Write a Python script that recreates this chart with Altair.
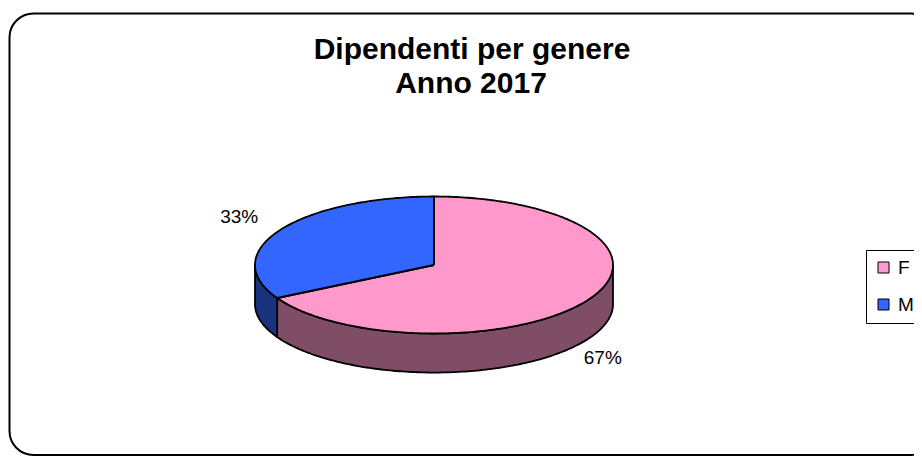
import altair as alt
import numpy as np
import pandas as pd

TITLE = ["Dipendenti per genere", "Anno 2017"]
genders = ["F", "M"]
values = [67, 33]
top_colors = ["#FF99CC", "#3366FF"]
side_colors = ["#804D66", "#1A3380"]

DEPTH = 0.57      # wall height, in units of the vertical radius
LABEL_KX = 1.18   # label distance factors
LABEL_KY = 1.45

total = sum(values)
rows_top, rows_side, rows_lab = [], [], []
start = 0.0


def pt(t):
    r = np.radians(t)
    return float(np.sin(r)), float(-np.cos(r))


for g, v in zip(genders, values):
    a0 = start / total * 360.0
    a1 = (start + v) / total * 360.0
    start += v
    angs = np.linspace(a0, a1, max(int(a1 - a0), 2) + 1)
    pts = [(0.0, 0.0)] + [pt(t) for t in angs] + [(0.0, 0.0)]
    for i, (x, y) in enumerate(pts):
        rows_top.append(dict(g=g, i=i, x=x, y=y))
    s0, s1 = max(a0, 90.0), min(a1, 270.0)
    if s1 > s0:
        angs = np.linspace(s0, s1, max(int(s1 - s0), 2) + 1)
        upper = [pt(t) for t in angs]
        lower = [(x, y + DEPTH) for x, y in upper[::-1]]
        pts = upper + lower + [upper[0]]
        for i, (x, y) in enumerate(pts):
            rows_side.append(dict(g=g, i=i, x=x, y=y))
    mid = (a0 + a1) / 2
    sx, sy = pt(mid)
    ly = LABEL_KY * sy + (DEPTH if sy > 0 else 0.0)
    rows_lab.append(dict(g=g, x=LABEL_KX * sx, y=ly, text=f"{round(v / total * 100)}%"))

top_df = pd.DataFrame(rows_top)
side_df = pd.DataFrame(rows_side)
lab_df = pd.DataFrame(rows_lab)

xs = alt.Scale(domain=[-1, 1], range=[247, 605], nice=False, zero=False)
ys = alt.Scale(domain=[-1, 1 + DEPTH], range=[188.5, 188.5 + (2 + DEPTH) * 68.5], nice=False, zero=False)

X = alt.X("x:Q", scale=xs, axis=None)
Y = alt.Y("y:Q", scale=ys, axis=None)

FONT = "Liberation Sans"

frame = alt.Chart(pd.DataFrame({"a": [0]})).mark_rect(
    fill="transparent", stroke="black", strokeWidth=2, cornerRadius=24
).encode(x=alt.value(1.5), x2=alt.value(927), y=alt.value(5.5), y2=alt.value(447))

side = alt.Chart(side_df).mark_line(
    stroke="black", strokeWidth=1.8, strokeJoin="round"
).encode(
    x=X, y=Y, order="i:Q", detail="g:N",
    fill=alt.Fill("g:N", scale=alt.Scale(domain=genders, range=side_colors), legend=None),
)

top = alt.Chart(top_df).mark_line(
    stroke="black", strokeWidth=1.8, strokeJoin="round"
).encode(
    x=X, y=Y, order="i:Q", detail="g:N",
    fill=alt.Fill(
        "g:N",
        scale=alt.Scale(domain=genders, range=top_colors),
        legend=alt.Legend(
            title=None, orient="none", legendX=858, legendY=242,
            symbolType="square", symbolSize=121, symbolStrokeColor="black",
            symbolStrokeWidth=1, symbolOffset=0, labelFont=FONT, labelFontSize=19,
            labelColor="black", labelOffset=5, rowPadding=17, padding=8,
            strokeColor="black",
        ),
    ),
)

labels = alt.Chart(lab_df).mark_text(
    font=FONT, fontSize=19, color="black", dx=-13, dy=3, baseline="middle", align="center"
).encode(x=X, y=Y, text="text:N")

t1 = alt.Chart(pd.DataFrame({"t": [TITLE[0]]})).mark_text(
    font=FONT, fontSize=30, fontWeight="bold", color="black", align="center", baseline="alphabetic"
).encode(x=alt.value(464), y=alt.value(51), text="t:N")
t2 = alt.Chart(pd.DataFrame({"t": [TITLE[1]]})).mark_text(
    font=FONT, fontSize=30, fontWeight="bold", color="black", align="center", baseline="alphabetic"
).encode(x=alt.value(463), y=alt.value(85), text="t:N")

chart = alt.layer(frame, side, top, labels, t1, t2).resolve_scale(fill="independent").properties(
    width=906, height=448, padding=0, autosize="none", background="white"
).configure_view(strokeWidth=0)

chart.save("out.html", embed_options={"renderer": "svg", "actions": False})
